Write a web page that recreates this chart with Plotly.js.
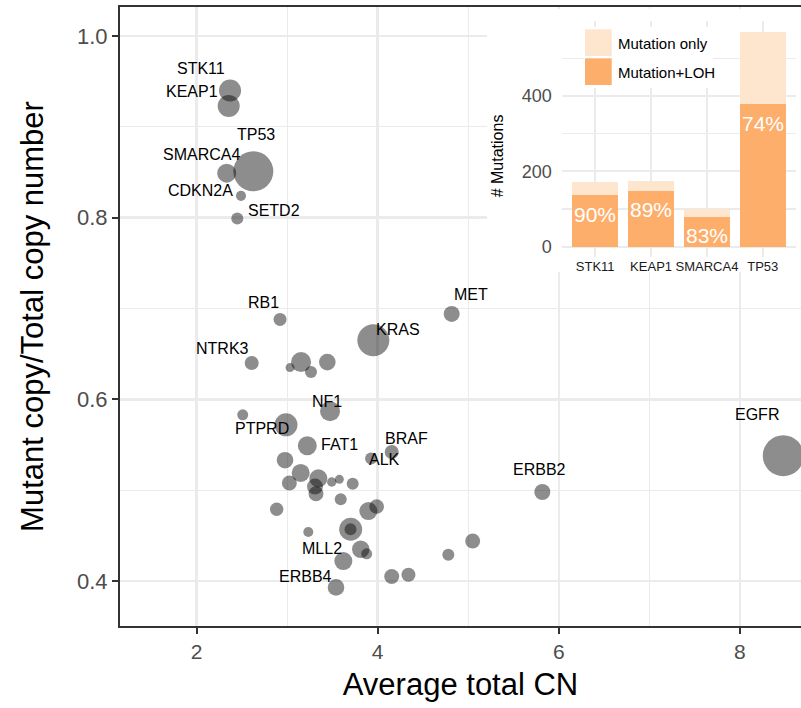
<!DOCTYPE html>
<html>
<head>
<meta charset="utf-8">
<script src="https://cdn.plot.ly/plotly-3.0.1.min.js"></script>
<style>html,body{margin:0;padding:0;background:#fff;}#chart{width:801px;height:708px;}</style>
</head>
<body>
<div id="chart"></div>
<script>
// ---------- main scatter data ----------
const gene = ['STK11','KEAP1','TP53','SMARCA4','CDKN2A','SETD2','RB1','MET','KRAS','NTRK3',
  '','','','','NF1','','PTPRD','FAT1','ALK','BRAF',
  '','','','','','','','','','',
  '','','','','','','','','MLL2','ERBB4',
  '','','','','ERBB2','EGFR'];
const cnX = [2.370,2.355,2.627,2.333,2.491,2.450,2.922,4.817,3.952,2.609,
  3.032,3.154,3.264,3.444,3.474,2.510,2.988,3.223,3.927,4.155,
  2.977,3.150,3.345,3.025,3.308,3.319,3.493,3.577,3.724,3.592,
  2.885,3.989,3.897,3.702,3.700,3.234,3.813,3.879,3.621,3.540,
  4.155,4.340,5.049,4.780,5.818,8.478];
const fracY = [0.940,0.923,0.851,0.849,0.824,0.799,0.688,0.694,0.665,0.640,
  0.635,0.641,0.630,0.641,0.587,0.583,0.572,0.549,0.535,0.542,
  0.533,0.519,0.513,0.508,0.504,0.496,0.509,0.512,0.507,0.490,
  0.479,0.482,0.477,0.457,0.457,0.454,0.435,0.430,0.422,0.393,
  0.405,0.407,0.444,0.429,0.498,0.538];
const nMut = [182,182,600,135,38,54,63,96,384,74,
  30,150,54,103,150,45,198,135,54,74,
  103,122,122,84,96,84,33,30,54,54,
  67,80,122,198,54,38,114,45,122,103,
  84,74,84,54,96,630];

// ---------- inset bar data ----------
const insetGenes = ['STK11','KEAP1','SMARCA4','TP53'];
const mutLOH = [137,148,80,378];
const mutOnly = [34,26,19,193];
const pctLabels = ['90%','89%','83%','74%'];
const insetTicks = [0,200,400];

// ---------- layout helpers (label placement, px offsets) ----------
const labelShift = {
  STK11:[-29.5,22.4], KEAP1:[-36.7,14], TP53:[3,37], SMARCA4:[-25.4,19], CDKN2A:[-41,5.3],
  SETD2:[37.2,7.6], RB1:[-16.8,17.3], MET:[19,19], KRAS:[25,11], NTRK3:[-29,14.4],
  NF1:[-3.3,9.7], PTPRD:[-24,-4], FAT1:[32,1], ALK:[13,-1], BRAF:[14.6,14],
  MLL2:[-21,12.5], ERBB4:[-31,11], ERBB2:[-3.3,23], EGFR:[-26.3,41.4]
};

const FONT = 'Liberation Sans, Arial, Helvetica, sans-serif';
const W = 801, H = 708, ML = 120, MT = 7, MR = 0, MB = 82;
const PW = W - ML - MR, PH = H - MT - MB;
const xr = [1.155, 8.674], yr = [0.3505, 1.0319];
const xAt = px => xr[0] + (px - ML) / PW * (xr[1] - xr[0]);
const yAt = py => yr[1] - (py - MT) / PH * (yr[1] - yr[0]);
const pxX = px => (px - ML) / PW;
const pyY = py => (H - MB - py) / PH;

const traces = [
  {
    type: 'scatter', mode: 'markers', x: cnX, y: fracY, text: gene,
    marker: {size: nMut, sizemode: 'area', sizeref: 0.75, sizemin: 0,
             color: 'rgba(0,0,0,0.64)', line: {width: 0}},
    hoverinfo: 'x+y+text', showlegend: false, xaxis: 'x', yaxis: 'y'
  },
  {
    type: 'bar', x: insetGenes, y: mutLOH, name: 'Mutation+LOH',
    marker: {color: '#FDAE6B', line: {width: 0}}, xaxis: 'x2', yaxis: 'y2', showlegend: false
  },
  {
    type: 'bar', x: insetGenes, y: mutOnly, name: 'Mutation only',
    marker: {color: '#FEE6CE', line: {width: 0}}, xaxis: 'x2', yaxis: 'y2', showlegend: false
  }
];

const annotations = [];
gene.forEach((g, i) => {
  if (!g) return;
  const s = labelShift[g] || [0, 12];
  annotations.push({x: cnX[i], y: fracY[i], xref: 'x', yref: 'y', text: g, showarrow: false,
    xanchor: 'center', yanchor: 'middle', xshift: s[0], yshift: s[1],
    font: {family: FONT, size: 16, color: '#000'}});
});
insetGenes.forEach((g, i) => {
  annotations.push({x: g, y: mutLOH[i], xref: 'x2', yref: 'y2', text: pctLabels[i], showarrow: false,
    xanchor: 'center', yanchor: 'middle', yshift: -19,
    font: {family: FONT, size: 21, color: '#ffffff'}});
});
// inset y-axis title
annotations.push({x: pxX(497.5), y: pyY(155.8), xref: 'paper', yref: 'paper', text: '# Mutations',
  showarrow: false, textangle: -90, xanchor: 'center', yanchor: 'middle',
  font: {family: FONT, size: 16, color: '#000'}});
// manual legend texts
annotations.push({x: pxX(616), y: pyY(43.3), xref: 'paper', yref: 'paper', text: 'Mutation only',
  showarrow: false, xanchor: 'left', yanchor: 'middle', font: {family: FONT, size: 15, color: '#000'}});
annotations.push({x: pxX(616), y: pyY(72.3), xref: 'paper', yref: 'paper', text: 'Mutation+LOH',
  showarrow: false, xanchor: 'left', yanchor: 'middle', font: {family: FONT, size: 15, color: '#000'}});

const shapes = [
  // white inset panel covering the main grid
  {type: 'rect', xref: 'x', yref: 'y', layer: 'between', x0: xAt(487), x1: xAt(810), y0: yAt(272), y1: yAt(9),
   fillcolor: '#ffffff', line: {width: 0}},
  // legend box + keys
  {type: 'rect', xref: 'paper', yref: 'paper', layer: 'above', x0: pxX(584), x1: pxX(713), y0: pyY(88), y1: pyY(27),
   fillcolor: '#ffffff', line: {width: 0}},
  {type: 'rect', xref: 'paper', yref: 'paper', layer: 'above', x0: pxX(585), x1: pxX(611.7), y0: pyY(56), y1: pyY(29.3),
   fillcolor: '#FEE6CE', line: {width: 0}},
  {type: 'rect', xref: 'paper', yref: 'paper', layer: 'above', x0: pxX(585), x1: pxX(611.7), y0: pyY(85), y1: pyY(58.3),
   fillcolor: '#FDAE6B', line: {width: 0}}
];

const layout = {
  width: W, height: H,
  margin: {l: ML, r: MR, t: MT, b: MB, pad: 0},
  paper_bgcolor: '#ffffff', plot_bgcolor: '#ffffff',
  font: {family: FONT, color: '#000'},
  showlegend: false,
  barmode: 'stack', bargap: 0.18,
  xaxis: {
    domain: [0, 1], range: xr, tick0: 0, dtick: 2,
    showgrid: true, gridcolor: '#EBEBEB', gridwidth: 2.5,
    minor: {dtick: 1, tick0: 0, showgrid: true, gridcolor: '#EBEBEB', gridwidth: 1.2, ticks: ''},
    zeroline: false, showline: true, linecolor: '#333333', linewidth: 2, mirror: true,
    ticks: 'outside', ticklen: 6, tickwidth: 2, tickcolor: '#333333',
    tickfont: {family: FONT, size: 21, color: '#4D4D4D'},
    title: {text: 'Average total CN', font: {family: FONT, size: 31, color: '#000'}, standoff: 11}
  },
  yaxis: {
    domain: [0, 1], range: yr, tick0: 0, dtick: 0.2, tickformat: '.1f',
    showgrid: true, gridcolor: '#EBEBEB', gridwidth: 2.5,
    minor: {dtick: 0.1, tick0: 0, showgrid: true, gridcolor: '#EBEBEB', gridwidth: 1.2, ticks: ''},
    zeroline: false, showline: true, linecolor: '#333333', linewidth: 2,
    ticks: 'outside', ticklen: 6, tickwidth: 2, tickcolor: '#333333',
    tickfont: {family: FONT, size: 22, color: '#4D4D4D'},
    title: {text: 'Mutant copy/Total copy number', font: {family: FONT, size: 31, color: '#000'}, standoff: 24}
  },
  xaxis2: {
    domain: [pxX(561.7), pxX(796.3)], anchor: 'y2', type: 'category', range: [-0.6, 3.6],
    showgrid: true, gridcolor: '#EBEBEB', gridwidth: 2,
    zeroline: false, showline: false, ticks: '', tickangle: 0,
    tickfont: {family: FONT, size: 13, color: '#1a1a1a'}
  },
  yaxis2: {
    domain: [pyY(257.4), pyY(20.6)], anchor: 'x2', range: [-28.5, 600],
    tickmode: 'array', tickvals: insetTicks, ticktext: insetTicks.map(String),
    showgrid: true, gridcolor: '#EBEBEB', gridwidth: 2,
    minor: {dtick: 100, tick0: 0, showgrid: true, gridcolor: '#EBEBEB', gridwidth: 1.2, ticks: ''},
    zeroline: false, showline: false, ticks: '', ticklabelstandoff: 9,
    tickfont: {family: FONT, size: 18, color: '#4D4D4D'}
  },
  shapes: shapes,
  annotations: annotations
};

Plotly.newPlot('chart', traces, layout, {staticPlot: true, displayModeBar: false});
</script>
</body>
</html>
